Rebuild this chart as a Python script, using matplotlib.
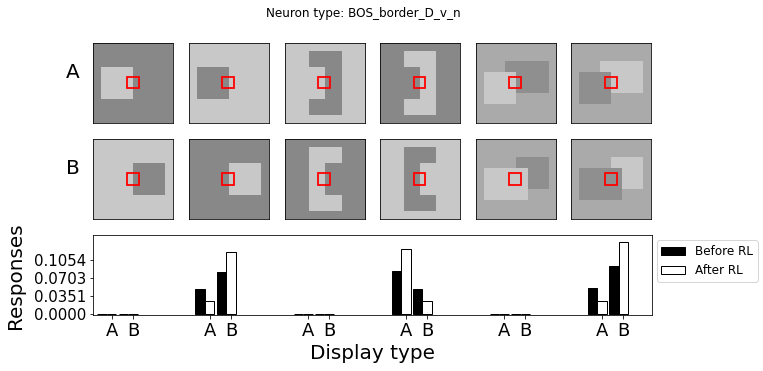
import numpy as np
import matplotlib
import matplotlib.pyplot as plt
from matplotlib.patches import Rectangle

matplotlib.use("Agg")

title = "Neuron type: BOS_border_D_v_n"
row_labels = ["A", "B"]
tick_labels = ["A", "B"] * 6
legend_labels = ["Before RL", "After RL"]

# responses per display (6 stimuli x A/B)
before_rl = [0.0, 0.0, 0.0494, 0.0826, 0.0, 0.0, 0.0845, 0.0494, 0.0, 0.0, 0.0513, 0.0943]
after_rl = [0.0, 0.0, 0.0254, 0.1210, 0.0, 0.0, 0.1269, 0.0254, 0.0, 0.0, 0.0260, 0.1405]
y_ticks = [0.0, 0.0351, 0.0703, 0.1054]

# grey levels
DARK = 136
LIGHT = 200
MID = 170
DARK2 = 143

# stimulus layouts: background, then rectangles (x0, x1, y0, y1, level), fractions of the image
stimuli_a = [
    (DARK, [(0.10, 0.50, 0.30, 0.70, LIGHT)]),
    (LIGHT, [(0.10, 0.50, 0.30, 0.70, DARK)]),
    (LIGHT, [(0.30, 0.70, 0.10, 0.90, DARK), (0.30, 0.50, 0.30, 0.70, LIGHT)]),
    (DARK, [(0.30, 0.70, 0.10, 0.90, LIGHT), (0.30, 0.50, 0.30, 0.70, DARK)]),
    (MID, [(0.36, 0.90, 0.23, 0.63, DARK2), (0.10, 0.50, 0.36, 0.76, LIGHT)]),
    (MID, [(0.36, 0.90, 0.23, 0.63, LIGHT), (0.10, 0.50, 0.36, 0.76, DARK2)]),
]
stimuli_b = [
    (LIGHT, [(0.50, 0.90, 0.30, 0.70, DARK)]),
    (DARK, [(0.50, 0.90, 0.30, 0.70, LIGHT)]),
    (DARK, [(0.30, 0.70, 0.10, 0.90, LIGHT), (0.50, 0.70, 0.30, 0.70, DARK)]),
    (LIGHT, [(0.30, 0.70, 0.10, 0.90, DARK), (0.50, 0.70, 0.30, 0.70, LIGHT)]),
    (MID, [(0.50, 0.90, 0.23, 0.63, DARK2), (0.10, 0.64, 0.36, 0.76, LIGHT)]),
    (MID, [(0.50, 0.90, 0.23, 0.63, LIGHT), (0.10, 0.64, 0.36, 0.76, DARK2)]),
]


def make_image(bg, rects, n=100):
    img = np.full((n, n), bg, dtype=float)
    for x0, x1, y0, y1, level in rects:
        img[int(round(y0 * n)):int(round(y1 * n)), int(round(x0 * n)):int(round(x1 * n))] = level
    return img


W, H = 763, 371
fig = plt.figure(figsize=(W / 72, H / 72), dpi=72)
fig.text(363 / W, 1 - 14 / H, title, ha="center", va="center", fontsize=12)

left0 = 93.3
pitch = 95.6
size = 80
for row, (stims, top) in enumerate([(stimuli_a, 43.3), (stimuli_b, 139.3)]):
    for i, (bg, rects) in enumerate(stims):
        ax = fig.add_axes([(left0 + i * pitch) / W, 1 - (top + size) / H, size / W, size / H])
        ax.imshow(make_image(bg, rects), cmap="gray", vmin=0, vmax=255,
                  extent=(0, 1, 1, 0), interpolation="nearest")
        ax.add_patch(Rectangle((0.42, 0.42), 0.145, 0.145, fill=False,
                               edgecolor="red", linewidth=1.8))
        ax.set_xticks([])
        ax.set_yticks([])
    # row label sits a bit above the row centre
    fig.text(72.5 / W, 1 - (top + 29.5) / H, row_labels[row],
             ha="center", va="center", fontsize=20)

# bar chart
bx = fig.add_axes([93.3 / W, 1 - 315.3 / H, (651.7 - 93.3) / W, 80 / H])
x = []
for g in range(6):
    x += [3 * g, 3 * g + 0.654]
x = np.array(x)
width = 0.29
bx.bar(x - width, before_rl, width, color="black", edgecolor="black", label=legend_labels[0])
bx.bar(x, after_rl, width, color="white", edgecolor="black", label=legend_labels[1])
bx.set_xticks(x)
bx.set_xticklabels(tick_labels, fontsize=18)
bx.set_yticks(y_ticks)
bx.set_yticklabels(["%.4f" % t for t in y_ticks], fontsize=15)
bx.set_xlim(-0.56, 16.52)
bx.set_ylim(-0.002, 0.1542)
bx.set_xlabel("Display type", fontsize=20)
bx.set_ylabel("Responses", fontsize=20, labelpad=9)
bx.legend(loc="upper left", bbox_to_anchor=(1.0, 1.0), fontsize=12, borderaxespad=0.4)

fig.savefig("out.png", dpi=72)
